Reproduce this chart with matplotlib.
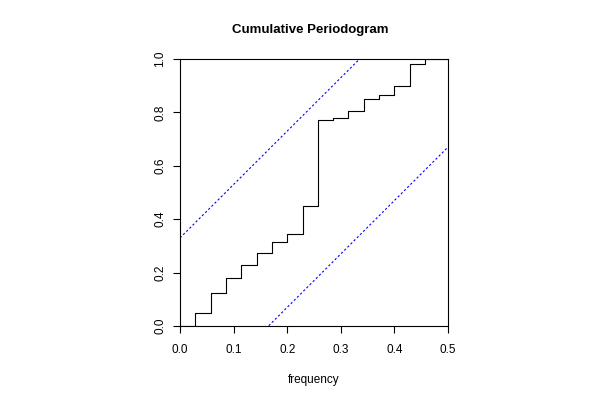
import numpy as np
import matplotlib.pyplot as plt
from matplotlib.ticker import FormatStrFormatter

plt.rcParams['font.family'] = ['Liberation Sans', 'DejaVu Sans']

# step positions (frequency) and cumulative periodogram values
freq = [0.0, 0.0286, 0.0571, 0.0857, 0.1143, 0.1429, 0.1714, 0.2, 0.2286,
        0.2571, 0.2857, 0.3143, 0.3429, 0.3714, 0.4, 0.4286, 0.4571, 0.5]
cum = [0.0, 0.047, 0.122, 0.181, 0.230, 0.272, 0.313, 0.345, 0.449,
       0.770, 0.778, 0.804, 0.851, 0.866, 0.898, 0.981, 1.0, 1.0]

# confidence band offset
crit = 0.33
band_x = [0.0, 0.5]

fig = plt.figure(figsize=(6, 4), dpi=100)
ax = fig.add_axes([0.3, 0.185, 0.4467, 0.6675])

ax.step(freq, cum, where='post', color='black', lw=0.8)
ax.plot(band_x, [2 * x + crit for x in band_x], color='blue', ls=(0, (2, 2)), lw=0.8)
ax.plot(band_x, [2 * x - crit for x in band_x], color='blue', ls=(0, (2, 2)), lw=0.8)

ax.set_xlim(0, 0.5)
ax.set_ylim(0, 1)
ax.set_xticks([0.0, 0.1, 0.2, 0.3, 0.4, 0.5])
ax.set_yticks([0.0, 0.2, 0.4, 0.6, 0.8, 1.0])
ax.xaxis.set_major_formatter(FormatStrFormatter('%.1f'))
ax.yaxis.set_major_formatter(FormatStrFormatter('%.1f'))
ax.tick_params(labelsize=8.5, length=5, width=0.8)
ax.tick_params(axis='x', pad=8)
ax.tick_params(axis='y', pad=5)
for lab in ax.get_yticklabels():
    lab.set_rotation(90)
    lab.set_va('center')
for s in ax.spines.values():
    s.set_linewidth(0.8)

ax.set_xlabel('frequency', fontsize=8.5, labelpad=13)
fig.text(0.517, 0.925, 'Cumulative Periodogram', ha='center', va='center',
         fontsize=9.5, fontweight='bold')

fig.savefig('out.png', dpi=100)
